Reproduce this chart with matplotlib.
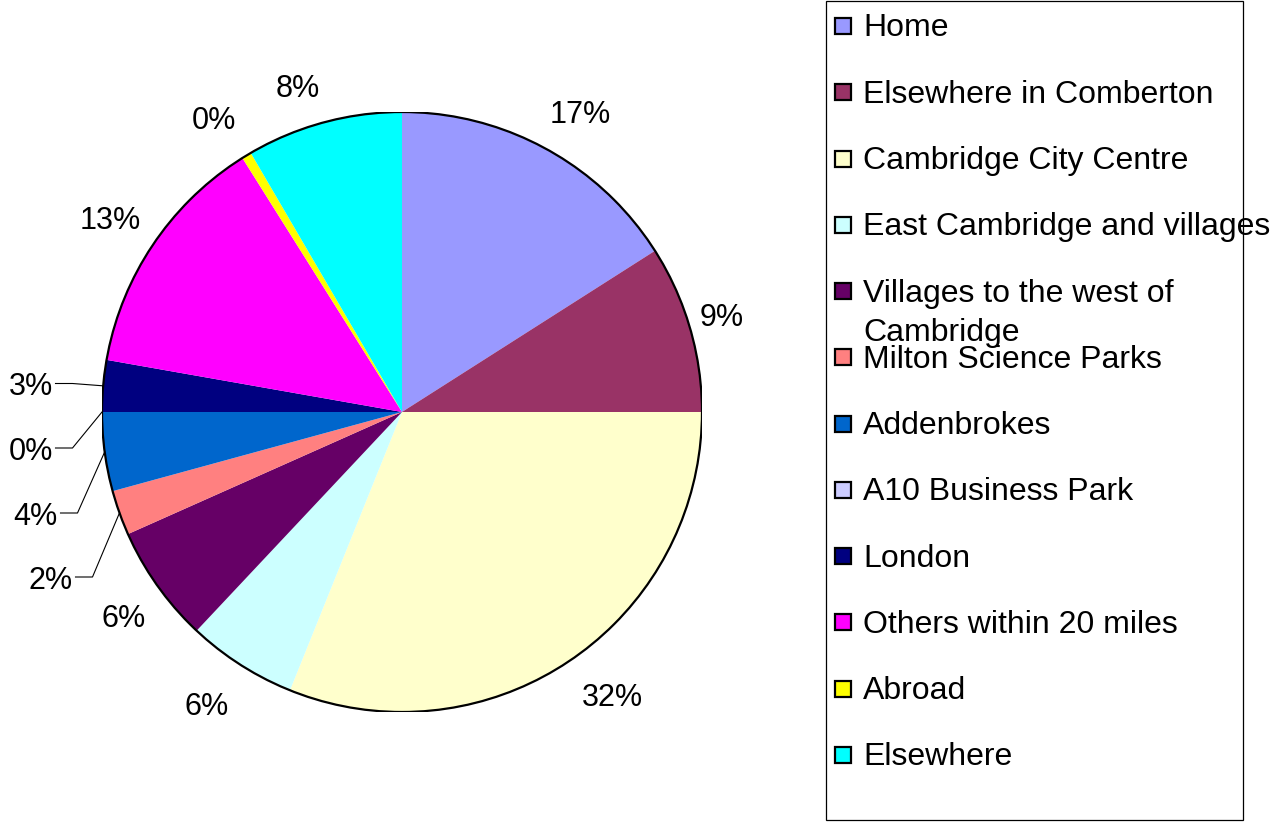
import matplotlib
matplotlib.use('Agg')
import matplotlib.pyplot as plt
from matplotlib.patches import Rectangle, Circle
import numpy as np

plt.rcParams['font.family'] = ['Liberation Sans', 'DejaVu Sans']

categories = ["Home", "Elsewhere in Comberton", "Cambridge City Centre",
              "East Cambridge and villages", "Villages to the west of\nCambridge",
              "Milton Science Parks", "Addenbrokes", "A10 Business Park", "London",
              "Others within 20 miles", "Abroad", "Elsewhere"]
values = [15.97, 9.03, 31.09, 5.91, 6.33, 2.42, 4.25, 0.0, 2.78, 13.29, 0.52, 8.41]
pct_labels = ["17%", "9%", "32%", "6%", "6%", "2%", "4%", "0%", "3%", "13%", "0%", "8%"]
colors = ["#9999FF", "#993366", "#FFFFCC", "#CCFFFF", "#660066", "#FF8080",
          "#0066CC", "#CCCCFF", "#000080", "#FF00FF", "#FFFF00", "#00FFFF"]

W, H = 1272, 823
fig = plt.figure(figsize=(W / 100, H / 100), dpi=100)
fig.patch.set_facecolor('white')

cx, cy, r = 402, 412, 300
ax = fig.add_axes([(cx - r) / W, (H - cy - r) / H, 2 * r / W, 2 * r / H])
wedges, _ = ax.pie(values, colors=colors, startangle=90, counterclock=False,
                   radius=1, wedgeprops=dict(linewidth=0), frame=False)
ax.set_xlim(-1, 1)
ax.set_ylim(-1, 1)
ax.set_aspect('equal')
ax.axis('off')
ax.add_patch(Circle((0, 0), 1, fill=False, edgecolor='black', lw=1.6, zorder=5))

PFS = 22
pem = PFS * 100 / 72.0
# label layout: pixel centres of each percentage text
label_xy = [(580.5, 112.5), (722, 315), (612, 695), (207, 704.5), (123.5, 616),
            (50.5, 578), (35.5, 514), (30.5, 449), (30.5, 384.5), (110.5, 218.5),
            (213.5, 118.5), (297.5, 86.5)]
leader = {5, 6, 7, 8}

def to_data(px, py):
    return (px - cx) / r, (cy - py) / r

for i, w in enumerate(wedges):
    px, py = label_xy[i]
    lx, ly = to_data(px, py + 0.358 * pem)
    t = ax.text(lx, ly, pct_labels[i], ha='center', va='baseline', fontsize=PFS,
                clip_on=False)
    if i in leader:
        mid = np.deg2rad((w.theta1 + w.theta2) / 2)
        ex, ey = np.cos(mid), np.sin(mid)
        half_w = 22
        x0, y0 = to_data(px + half_w + 3, py - 1)
        x1, _ = to_data(px + half_w + 20, py - 1)
        ax.plot([x0, x1, ex], [y0, y0, ey], color='black', lw=0.8,
                clip_on=False)

# legend box drawn in pixel layout
def fx(px):
    return px / W

def fy(py):
    return 1 - py / H

fig.patches.append(Rectangle((fx(826), fy(820)), (1243 - 826) / W, (820 - 1) / H,
                             transform=fig.transFigure, fill=False,
                             edgecolor='black', lw=0.9))
LFS = 23
lem = LFS * 100 / 72.0
row0, step, sq, lsp = 25, 66.27, 16, 39
for i, (cat, col) in enumerate(zip(categories, colors)):
    yc = row0 + i * step
    fig.patches.append(Rectangle((fx(843 - sq / 2), fy(yc + 1 + sq / 2)), sq / W, sq / H,
                                 transform=fig.transFigure, facecolor=col,
                                 edgecolor='black', lw=1.6))
    for j, line in enumerate(cat.split('\n')):
        fig.text(fx(863), fy(yc + j * lsp + 0.358 * lem), line, ha='left',
                 va='baseline', fontsize=LFS)

fig.savefig('out.png', dpi=100)
